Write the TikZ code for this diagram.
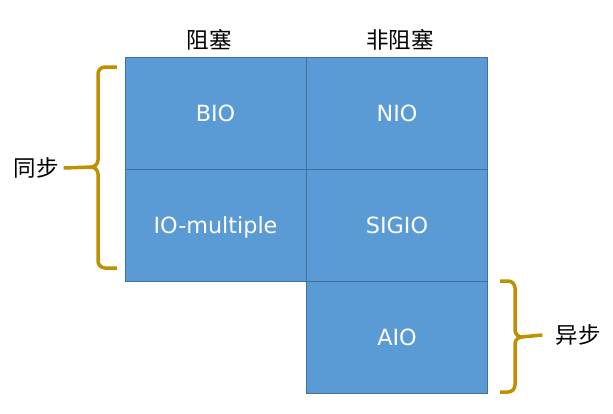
\documentclass[tikz,border=0pt]{standalone}
\usepackage{fontspec}
\setmainfont{DejaVu Sans}
\newfontfamily\cjk{Noto Sans CJK SC}
\usepackage{xcolor}
\usetikzlibrary{positioning,calc}
\definecolor{cellblue}{HTML}{5B9BD5}
\definecolor{cellline}{HTML}{41719C}
\definecolor{bracegold}{HTML}{BF9000}

\begin{document}
\begin{tikzpicture}[
  x=1pt, y=-1pt,
  cell/.style={draw=cellline, line width=0.8pt, fill=cellblue, text=white,
               minimum width=181pt, minimum height=112pt, inner sep=0pt,
               text height=16.2pt, text depth=0pt,
               font=\fontsize{22.3}{26}\selectfont},
  head/.style={font=\cjk\fontsize{22.5}{26}\selectfont, inner sep=0pt},
  brace/.style={draw=bracegold, line width=3.5pt, rounded corners=7pt}
]
  \useasboundingbox (0,0) rectangle (613,413);
  % the grid of io models
  \node[cell] (bio)   at (215.5,113) {BIO};
  \node[cell] (nio)   at (397,113)   {NIO};
  \node[cell] (mux)   at (215.5,225) {IO-multiple};
  \node[cell] (sigio) at (397,225)   {SIGIO};
  \node[cell] (aio)   at (397,337)   {AIO};
  % column heads
  \node[head] (block)   at (209,40) {阻塞};
  \node[head] (noblock) at (400,40) {非阻塞};
  % row labels
  \node[head] (sync)  at (36,168)  {同步};
  \node[head] (async) at (578,335) {异步};
  % braces
  \coordinate (lcusp) at (92,167);
  \coordinate (rcusp) at (521,337);
  \draw[brace] (117,67) -- (98,67) -- (98,167) -- (lcusp);
  \draw[brace] (117,268) -- (98,268) -- (98,167) -- (lcusp);
  \draw[brace, rounded corners=0pt] (sync.east) ++(5,0) -- (lcusp);
  \draw[brace] (500,281) -- (515,281) -- (515,337) -- (rcusp);
  \draw[brace] (500,392) -- (515,392) -- (515,337) -- (rcusp);
  \draw[brace, rounded corners=0pt] (rcusp) -- ($(async.west)+(-13,0)$);
\end{tikzpicture}
\end{document}
